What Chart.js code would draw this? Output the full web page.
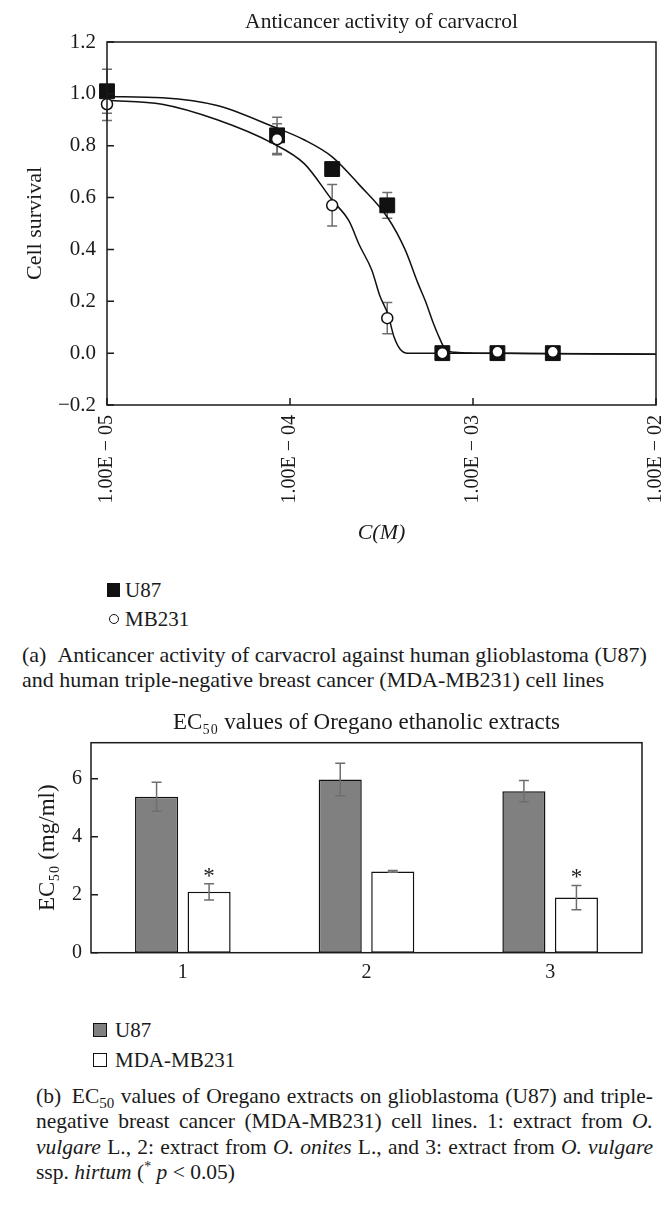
<!DOCTYPE html>
<html>
<head>
<meta charset="utf-8">
<script src="https://cdn.jsdelivr.net/npm/chart.js@4.4.0/dist/chart.umd.min.js"></script>
<style>
body { margin: 0; background: #fff; }
#page { position: relative; width: 671px; height: 1219px; overflow: hidden; font-family: "Liberation Serif", serif; color: #1a1a1a; }
canvas { position: absolute; left: 0; }
.txt { position: absolute; font-size: 21px; line-height: 22px; white-space: nowrap; }
.sw { position: absolute; box-sizing: border-box; }
.cap { position: absolute; font-size: 22px; line-height: 25.3px; }
.cap div { white-space: nowrap; }
.just { font-size: 21.5px; }
.just div { text-align: justify; text-align-last: justify; }
.just div.last { text-align-last: left; }
sub { font-size: 15px; line-height: 0; }
sup { font-size: 14px; line-height: 0; }
</style>
</head>
<body>
<div id="page">
  <canvas id="g1" width="671" height="560" style="top:0"></canvas>
  <canvas id="g2" width="671" height="300" style="top:700px"></canvas>

  <!-- legend (a) -->
  <div class="sw" style="left:107px;top:583px;width:13px;height:14px;background:#111"></div>
  <div class="txt" style="left:125px;top:579px">U87</div>
  <div class="sw" style="left:109px;top:614px;width:10px;height:10px;border:1.5px solid #111;border-radius:50%;background:#fff"></div>
  <div class="txt" style="left:125px;top:608px">MB231</div>

  <div class="cap" style="left:22px;top:642px;width:660px">
    <div>(a)&ensp;Anticancer activity of carvacrol against human glioblastoma (U87)</div>
    <div>and human triple-negative breast cancer (MDA-MB231) cell lines</div>
  </div>

  <!-- legend (b) -->
  <div class="sw" style="left:93px;top:1023px;width:14px;height:14px;border:1.5px solid #111;background:#808080"></div>
  <div class="txt" style="left:115px;top:1019px">U87</div>
  <div class="sw" style="left:93px;top:1053px;width:14px;height:14px;border:1.5px solid #111;background:#fff"></div>
  <div class="txt" style="left:115px;top:1049px">MDA-MB231</div>

  <div class="cap just" style="left:36px;top:1084px;width:617px">
    <div>(b)&ensp;EC<sub>50</sub> values of Oregano extracts on glioblastoma (U87) and triple-</div>
    <div>negative breast cancer (MDA-MB231) cell lines. 1: extract from <i>O.</i></div>
    <div><i>vulgare</i> L., 2: extract from <i>O. onites</i> L., and 3: extract from <i>O. vulgare</i></div>
    <div class="last">ssp. <i>hirtum</i> (<sup>*</sup> <i>p</i> &lt; 0.05)</div>
  </div>
</div>

<script>
// data (a) - carvacrol, cell survival vs concentration
var concM = [1e-5, 8.5e-5, 1.7e-4, 3.4e-4, 6.8e-4, 1.36e-3, 2.73e-3];
var u87Survival = [1.01, 0.84, 0.71, 0.57, 0.0, 0.0, 0.0];
var u87Err = [0.085, 0.07, 0.02, 0.05, 0, 0, 0];
var mbSurvival = [0.96, 0.825, 0.57, 0.135, 0.0, 0.005, 0.005];
var mbErr = [0.063, 0.06, 0.08, 0.06, 0, 0, 0];

// fitted curves
var u87FitC = [1e-5, 2e-5, 4e-5, 8e-5, 1.2e-4, 1.7e-4, 2.4e-4, 3.4e-4, 4.25e-4, 5e-4, 5.5e-4, 6e-4, 6.4e-4, 7.1e-4, 8e-4, 1e-3, 2e-3, 5e-3, 1e-2];
var u87FitS = [0.99, 0.985, 0.955, 0.875, 0.822, 0.757, 0.648, 0.525, 0.40, 0.27, 0.20, 0.125, 0.076, 0.013, 0.003, 0.0, -0.001, -0.003, -0.004];
var mbFitC = [1e-5, 2e-5, 4e-5, 8e-5, 1.2e-4, 1.7e-4, 2.1e-4, 2.4e-4, 2.8e-4, 3.1e-4, 3.43e-4, 3.7e-4, 4e-4, 4.4e-4, 5e-4, 1e-3, 1e-2];
var mbFitS = [0.975, 0.96, 0.90, 0.81, 0.73, 0.59, 0.51, 0.415, 0.32, 0.22, 0.15, 0.063, 0.015, 0.0, 0.0, 0.0, -0.004];

var xTicks = [1e-5, 1e-4, 1e-3, 1e-2];
var xTickLabels = ['1.00E \u2212 05', '1.00E \u2212 04', '1.00E \u2212 03', '1.00E \u2212 02'];
var yTicks = [-0.2, 0, 0.2, 0.4, 0.6, 0.8, 1.0, 1.2];

// data (b) - EC50 of oregano extracts
var extracts = ['1', '2', '3'];
var u87EC50 = [5.38, 5.97, 5.57];
var u87EC50Err = [0.5, 0.56, 0.37];
var mdaEC50 = [2.1, 2.8, 1.9];
var mdaEC50Err = [0.28, 0.03, 0.42];
var mdaSig = ['*', '', '*'];
var ecTicks = [0, 2, 4, 6];

var FONT = "'Liberation Serif', serif";
var INK = '#1a1a1a';
Chart.defaults.font.family = FONT;
Chart.defaults.color = INK;

function pairs(xs, ys) {
    return xs.map(function(x, i) { return {x: x, y: ys[i]}; });
}

// box round the plot + inward tick marks
var frame = {
    id: 'frame',
    afterDraw: function(chart, args, opts) {
        var a = chart.chartArea, ctx = chart.ctx;
        ctx.save();
        ctx.strokeStyle = INK;
        ctx.lineWidth = 1.5;
        ctx.strokeRect(a.left, a.top, a.right - a.left, a.bottom - a.top);
        ctx.beginPath();
        if (opts.xTicks) {
            var xs = chart.scales.x;
            xs.ticks.forEach(function(t) {
                var px = xs.getPixelForValue(t.value);
                ctx.moveTo(px, a.bottom);
                ctx.lineTo(px, a.bottom - 7);
            });
        }
        if (opts.yTicks) {
            var ys = chart.scales.y;
            ys.ticks.forEach(function(t) {
                var py = ys.getPixelForValue(t.value);
                ctx.moveTo(a.left, py);
                ctx.lineTo(a.left + 7, py);
            });
        }
        ctx.stroke();
        ctx.restore();
    }
};

// error bars (and significance marks) from dataset.errors
function drawErrors(chart, opts) {
    var ctx = chart.ctx, ys = chart.scales.y;
    ctx.save();
    ctx.strokeStyle = '#6e6e6e';
    ctx.lineWidth = 1.5;
    chart.data.datasets.forEach(function(ds, di) {
        if (!ds.errors) return;
        var meta = chart.getDatasetMeta(di);
        meta.data.forEach(function(el, i) {
            var e = ds.errors[i];
            var v = typeof ds.data[i] === 'object' ? ds.data[i].y : ds.data[i];
            var top = ys.getPixelForValue(v + e), bot = ys.getPixelForValue(v - e);
            if (e > 0) {
                ctx.beginPath();
                ctx.moveTo(el.x, top); ctx.lineTo(el.x, bot);
                ctx.moveTo(el.x - 5, top); ctx.lineTo(el.x + 5, top);
                ctx.moveTo(el.x - 5, bot); ctx.lineTo(el.x + 5, bot);
                ctx.stroke();
            }
            if (ds.marks && ds.marks[i]) {
                ctx.fillStyle = INK;
                ctx.font = '23px ' + FONT;
                ctx.textAlign = 'center';
                ctx.textBaseline = 'alphabetic';
                ctx.fillText(ds.marks[i], el.x, top - 1);
            }
        });
    });
    ctx.restore();
}
var errorBars = {
    id: 'errorBars',
    beforeDatasetsDraw: function(chart, args, opts) { if (opts.behind) drawErrors(chart, opts); },
    afterDatasetsDraw: function(chart, args, opts) { if (!opts.behind) drawErrors(chart, opts); }
};

// (a) line chart
var ctx1 = document.getElementById('g1');
var chart1 = new Chart(ctx1, {
    type: 'scatter',
    data: {
        datasets: [{
            label: 'MB231',
            data: pairs(concM, mbSurvival),
            errors: mbErr,
            pointStyle: 'circle',
            pointRadius: 5.5,
            pointBackgroundColor: '#fff',
            pointBorderColor: '#111',
            pointBorderWidth: 1.5,
            clip: false,
            order: 1
        }, {
            label: 'U87',
            data: pairs(concM, u87Survival),
            errors: u87Err,
            pointStyle: 'rect',
            pointRadius: 10.5,
            pointBackgroundColor: '#111',
            pointBorderColor: '#111',
            pointBorderWidth: 1,
            clip: false,
            order: 2
        }, {
            label: 'U87 fit',
            data: pairs(u87FitC, u87FitS),
            showLine: true,
            pointRadius: 0,
            borderColor: '#111',
            borderWidth: 1.5,
            cubicInterpolationMode: 'monotone',
            order: 3
        }, {
            label: 'MB231 fit',
            data: pairs(mbFitC, mbFitS),
            showLine: true,
            pointRadius: 0,
            borderColor: '#111',
            borderWidth: 1.5,
            cubicInterpolationMode: 'monotone',
            order: 4
        }]
    },
    options: {
        responsive: false,
        animation: false,
        layout: { padding: { left: 0, right: 15, top: 0, bottom: 0 } },
        scales: {
            x: {
                type: 'logarithmic',
                min: 1e-5,
                max: 1e-2,
                afterBuildTicks: function(s) { s.ticks = xTicks.map(function(v) { return {value: v}; }); },
                afterFit: function(s) { s.height = 155; s.paddingLeft = 0; s.paddingRight = 0; },
                grid: { display: false, drawTicks: false },
                border: { display: false },
                ticks: {
                    autoSkip: false,
                    minRotation: 90,
                    maxRotation: 90,
                    padding: 10,
                    font: { size: 20 },
                    callback: function(v, i) { return xTickLabels[i]; }
                },
                title: { display: true, text: 'C(M)', font: { size: 22, style: 'italic' }, padding: { top: 0, bottom: 14 } }
            },
            y: {
                min: -0.2,
                max: 1.2,
                afterBuildTicks: function(s) { s.ticks = yTicks.map(function(v) { return {value: v}; }); },
                afterFit: function(s) { s.width = 107; },
                grid: { display: false, drawTicks: false },
                border: { display: false },
                ticks: {
                    padding: 11,
                    font: { size: 21 },
                    callback: function(v) { return Math.abs(v) < 1e-9 ? '0.0' : v.toFixed(1).replace('-', '\u2212'); }
                },
                title: { display: true, text: 'Cell survival', font: { size: 22 }, padding: { top: 22 } }
            }
        },
        plugins: {
            legend: { display: false },
            tooltip: { enabled: false },
            title: {
                display: true,
                text: 'Anticancer activity of carvacrol',
                fullSize: false,
                font: { size: 21.5, weight: 'normal' },
                padding: { top: 9, bottom: 7.2 }
            },
            frame: { xTicks: true, yTicks: true },
            errorBars: { behind: true }
        }
    },
    plugins: [frame, errorBars]
});

// (b) bar chart
var ctx2 = document.getElementById('g2');
var chart2 = new Chart(ctx2, {
    type: 'bar',
    data: {
        labels: extracts,
        datasets: [{
            label: 'U87',
            data: u87EC50,
            errors: u87EC50Err,
            backgroundColor: '#808080',
            borderColor: '#111',
            borderWidth: 1.5,
            borderSkipped: false
        }, {
            label: 'MDA-MB231',
            data: mdaEC50,
            errors: mdaEC50Err,
            marks: mdaSig,
            backgroundColor: '#fff',
            borderColor: '#111',
            borderWidth: 1.5,
            borderSkipped: false
        }]
    },
    options: {
        responsive: false,
        animation: false,
        categoryPercentage: 0.572,
        barPercentage: 0.82,
        layout: { padding: { left: 0, right: 29, top: 0, bottom: 0 } },
        scales: {
            x: {
                afterFit: function(s) { s.height = 47.3; },
                grid: { display: false, drawTicks: false },
                border: { display: false },
                ticks: { padding: 8, font: { size: 20 } }
            },
            y: {
                min: 0,
                max: 7.24,
                afterBuildTicks: function(s) { s.ticks = ecTicks.map(function(v) { return {value: v}; }); },
                afterFit: function(s) { s.width = 91; },
                grid: { display: false, drawTicks: false },
                border: { display: false },
                ticks: { padding: 9, font: { size: 20 } },
                title: { display: true, text: 'EC\u2085\u2080 (mg/ml)', font: { size: 23 }, padding: { top: 34 } }
            }
        },
        plugins: {
            legend: { display: false },
            tooltip: { enabled: false },
            title: {
                display: true,
                text: 'EC\u2085\u2080 values of Oregano ethanolic extracts',
                fullSize: false,
                font: { size: 23, weight: 'normal' },
                padding: { top: 9.5, bottom: 5.6 }
            },
            frame: { xTicks: false, yTicks: true },
            errorBars: { behind: false }
        }
    },
    plugins: [frame, errorBars]
});
</script>
</body>
</html>
